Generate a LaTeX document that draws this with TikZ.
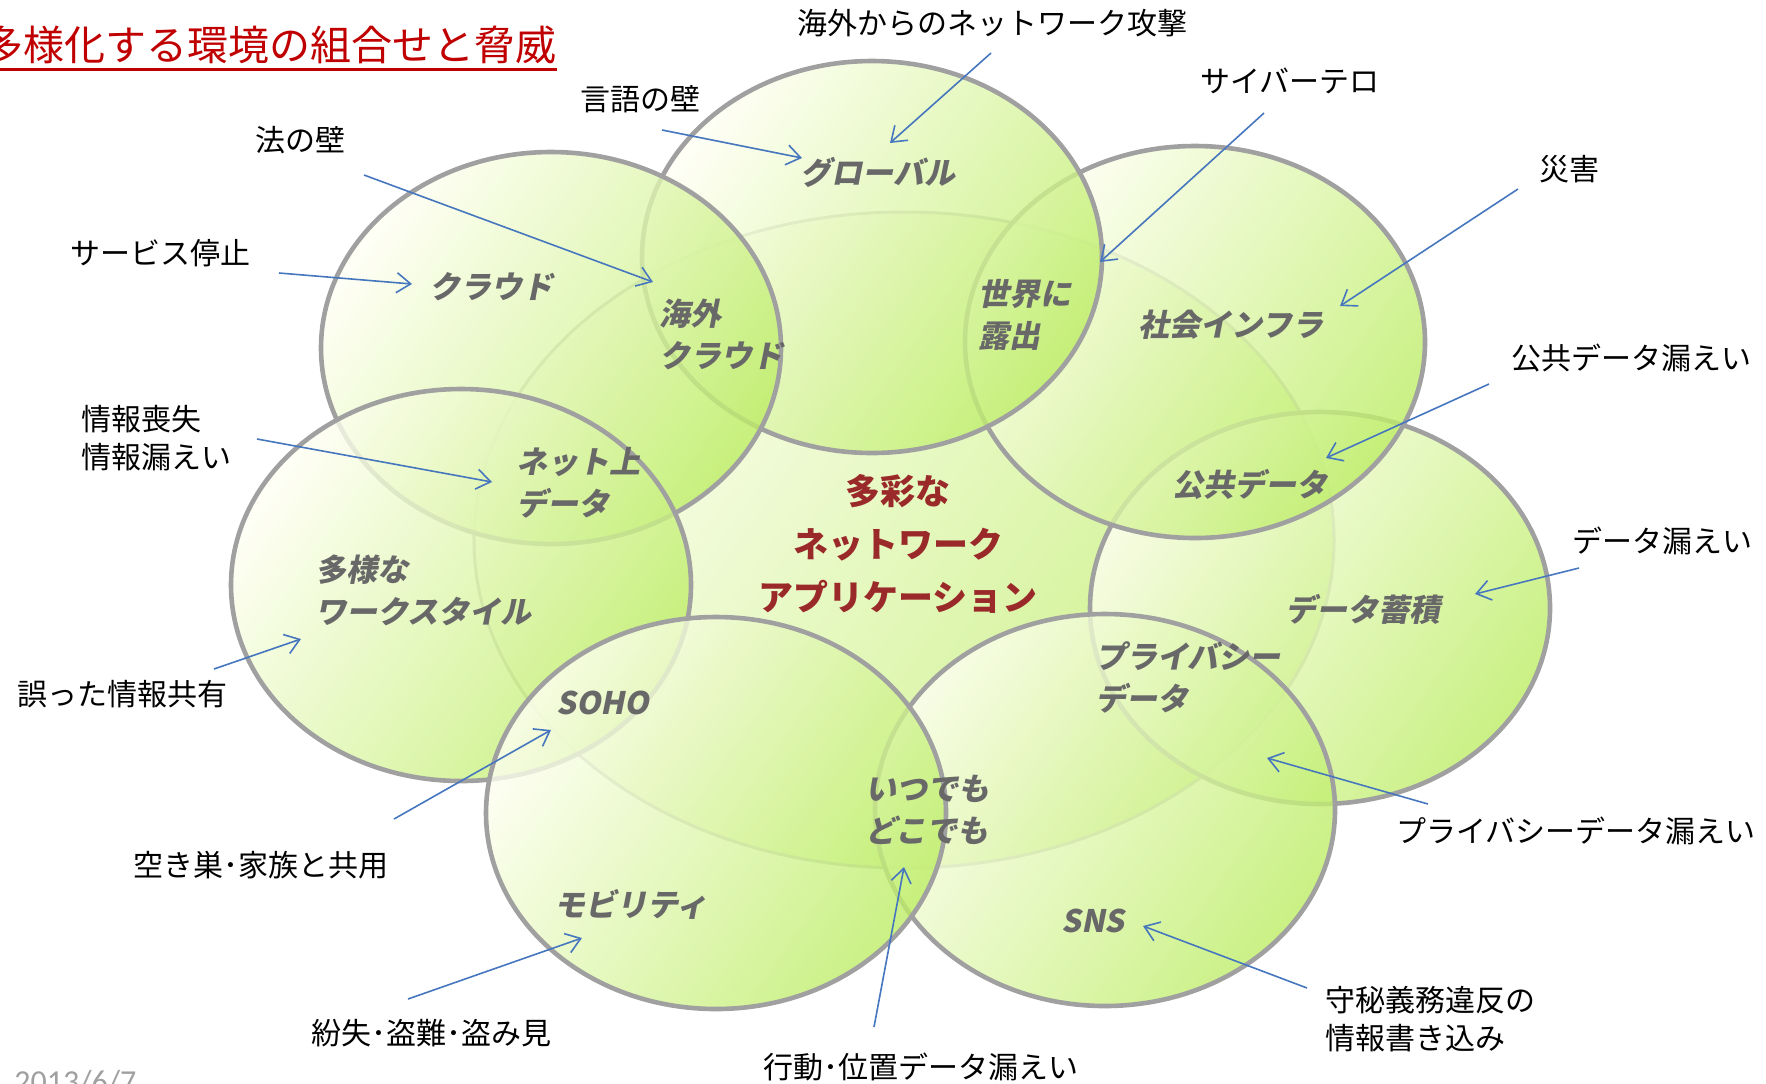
\documentclass[tikz,border=0pt]{standalone}
\usepackage{fontspec}
\usetikzlibrary{arrows.meta}
\newfontfamily\jp{Noto Sans CJK JP}
\newfontfamily\jpsl{Noto Sans CJK JP}[FakeSlant=0.2]
\newfontfamily\datefont{Carlito}
\definecolor{paleC}{HTML}{FFFFF4}
\definecolor{midC}{HTML}{F0FAC8}
\definecolor{greenC}{HTML}{BDED66}
\definecolor{rimC}{HTML}{A0A0A0}
\definecolor{arrC}{HTML}{4677BE}
\definecolor{titleC}{HTML}{C00000}
\definecolor{centC}{HTML}{9A2A2A}
\definecolor{innerC}{HTML}{686868}
\definecolor{dateC}{HTML}{A0A0A0}
\begin{document}
\begin{tikzpicture}[x=0.5pt,y=-0.5pt,
  bubble/.style={draw=rimC, line width=2.3pt, top color=paleC, middle color=midC, bottom color=greenC, shading angle=55, fill opacity=0.8},
  threat/.style={font=\jp\fontsize{15}{19}\selectfont, text=black, inner sep=0pt, align=left},
  area/.style={font=\jpsl\bfseries\fontsize{15.5}{21}\selectfont, text=innerC, inner sep=0pt, align=left},
  hit/.style={draw=arrC, line width=0.8pt, -{Straight Barb[length=7pt,width=10pt]}},
]
\useasboundingbox (0,0) rectangle (1766,1083);
\clip (0,0) rectangle (1766,1083);

% ellipses
\path[bubble, draw=rimC!75, line width=1.5pt] (904,540) ellipse [x radius=215pt, y radius=164pt];
\path[bubble] (1320,608) ellipse [x radius=115pt, y radius=98pt];
\path[bubble] (1105,810) ellipse [x radius=115pt, y radius=98pt];
\path[bubble] (1195,342) ellipse [x radius=115pt, y radius=98pt];
\path[bubble] (872,257) ellipse [x radius=115pt, y radius=98pt];
\path[bubble] (551,348) ellipse [x radius=115pt, y radius=98pt];
\path[bubble] (461,585) ellipse [x radius=115pt, y radius=98pt];
\path[bubble] (716,813) ellipse [x radius=115pt, y radius=98pt];

% title
\node[font=\jp\fontsize{20.5}{24}\selectfont, text=titleC, anchor=east, inner sep=0pt] (title) at (557,45) {多様化する環境の組合せと脅威};
\coordinate (ulA) at (0,69);
\coordinate (ulB) at (557,69);
\draw[titleC, line width=1.5pt] (ulA) -- (ulB);

% date
\node[font=\datefont\fontsize{16}{18}\selectfont, text=dateC, anchor=base west, inner sep=0pt] (date) at (14,1092) {2013/6/7};

% area labels
\node[area] (glob) at (878,172) {グローバル};
\node[area] (cloud) at (491,287) {クラウド};
\node[area] (infra) at (1231,325) {社会インフラ};
\node[area] (pub) at (1250,484) {公共データ};
\node[area] (store) at (1363,609) {データ蓄積};
\node[area] (soho) at (603,703) {SOHO};
\node[area] (mob) at (631,904) {モビリティ};
\node[area] (sns) at (1093,921) {SNS};
\node[area, anchor=west] (ocloud) at (659,334) {海外\\クラウド};
\node[area, anchor=west] (expo) at (978,315) {世界に\\露出};
\node[area, anchor=west] (net) at (516,483) {ネット上\\データ};
\node[area, anchor=west] (work) at (315,590) {多様な\\ワークスタイル};
\node[area, anchor=west] (priv) at (1095,677) {プライバシー\\データ};
\node[area, anchor=west] (any) at (865,810) {いつでも\\どこでも};
\node[font=\jp\bfseries\fontsize{17.5}{26.7}\selectfont, text=centC, inner sep=0pt, align=center] (core) at (898,544) {多彩な\\ネットワーク\\アプリケーション};

% threat labels
\node[threat] (tAtk) at (992,23) {海外からのネットワーク攻撃};
\node[threat] (tLang) at (640,99) {言語の壁};
\node[threat] (tTerr) at (1290,81) {サイバーテロ};
\node[threat] (tLaw) at (300,140) {法の壁};
\node[threat] (tDis) at (1569,169) {災害};
\node[threat] (tStop) at (160,253) {サービス停止};
\node[threat] (tPub) at (1631,358) {公共データ漏えい};
\node[threat, anchor=west] (tLoss) at (81,438) {情報喪失\\情報漏えい};
\node[threat] (tLeak) at (1662,541) {データ漏えい};
\node[threat] (tShare) at (123,694) {誤った情報共有};
\node[threat] (tPriv) at (1576,831) {プライバシーデータ漏えい};
\node[threat] (tHome) at (261,865) {空き巣･家族と共用};
\node[threat, anchor=west] (tSecret) at (1325,1019) {守秘義務違反の\\情報書き込み};
\node[threat] (tLost) at (431,1033) {紛失･盗難･盗み見};
\node[threat] (tLoc) at (921,1067) {行動･位置データ漏えい};

% arrows
\coordinate (sAtk) at (991,53);    \coordinate (eAtk) at (890,143);
\coordinate (sLang) at (662,130);  \coordinate (eLang) at (802,158);
\coordinate (sTerr) at (1264,113); \coordinate (eTerr) at (1100,262);
\coordinate (sLaw) at (364,175);   \coordinate (eLaw) at (653,282);
\coordinate (sDis) at (1518,189);  \coordinate (eDis) at (1340,306);
\coordinate (sStop) at (279,273);  \coordinate (eStop) at (412,284);
\coordinate (sPub) at (1489,384);  \coordinate (ePub) at (1326,458);
\coordinate (sLoss) at (257,439);  \coordinate (eLoss) at (492,482);
\coordinate (sLeak) at (1579,568); \coordinate (eLeak) at (1475,594);
\coordinate (sShare) at (214,669); \coordinate (eShare) at (301,639);
\coordinate (sPriv) at (1428,804); \coordinate (ePriv) at (1267,758);
\coordinate (sHome) at (394,819);  \coordinate (eHome) at (551,730);
\coordinate (sSecret) at (1307,988); \coordinate (eSecret) at (1143,926);
\coordinate (sLost) at (408,999);  \coordinate (eLost) at (582,938);
\coordinate (sLoc) at (874,1027);  \coordinate (eLoc) at (904,867);
\draw[hit] (sAtk) -- (eAtk);
\draw[hit] (sLang) -- (eLang);
\draw[hit] (sTerr) -- (eTerr);
\draw[hit] (sLaw) -- (eLaw);
\draw[hit] (sDis) -- (eDis);
\draw[hit] (sStop) -- (eStop);
\draw[hit] (sPub) -- (ePub);
\draw[hit] (sLoss) -- (eLoss);
\draw[hit] (sLeak) -- (eLeak);
\draw[hit] (sShare) -- (eShare);
\draw[hit] (sPriv) -- (ePriv);
\draw[hit] (sHome) -- (eHome);
\draw[hit] (sSecret) -- (eSecret);
\draw[hit] (sLost) -- (eLost);
\draw[hit] (sLoc) -- (eLoc);
\end{tikzpicture}
\end{document}
